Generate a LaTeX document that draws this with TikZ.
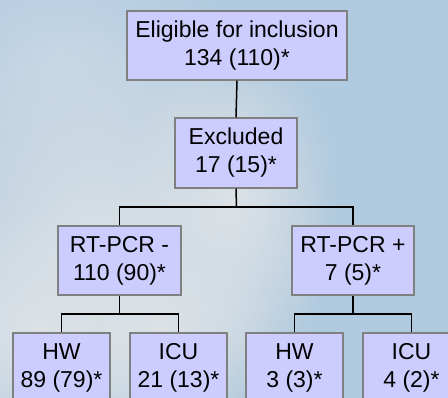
\documentclass[tikz,border=0pt]{standalone}
\usepackage{fontspec}
\setmainfont{Liberation Sans}
\usetikzlibrary{fadings}
\tikzfading[name=softblob, inner color=transparent!0, outer color=transparent!100]
\definecolor{skyblue}{HTML}{B0CADF}
\definecolor{skylight}{HTML}{C6D6E6}
\definecolor{cloud}{HTML}{DCE2E6}
\definecolor{boxfill}{HTML}{CCCCFF}
\definecolor{boxline}{HTML}{808080}
\tikzset{
  box/.style={draw=boxline, line width=1.3pt, fill=boxfill, inner sep=0pt,
    align=center, font=\fontsize{23}{28}\selectfont, text=black},
  link/.style={draw=black, line width=1.5pt}
}
\begin{document}
\begin{tikzpicture}[x=1pt,y=-1pt]
\useasboundingbox (0,0) rectangle (448,398);
\clip (0,0) rectangle (448,398);
% background sky
\fill[skyblue] (0,0) rectangle (448,398);
\fill[skylight, path fading=softblob] (60,60) ellipse [x radius=180, y radius=140];
\fill[cloud, path fading=softblob] (100,250) ellipse [x radius=230, y radius=230];
\fill[cloud, path fading=softblob] (230,200) ellipse [x radius=110, y radius=170];
\fill[cloud, path fading=softblob] (40,330) ellipse [x radius=150, y radius=120];
\fill[cloud, path fading=softblob] (160,330) ellipse [x radius=120, y radius=100];
% boxes
\node[box, minimum width=220pt, minimum height=69pt] (top) at (237,45.5) {Eligible for inclusion\\134 (110)*};
\node[box, minimum width=122pt, minimum height=70pt] (excl) at (236,153) {Excluded\\17 (15)*};
\node[box, minimum width=123pt, minimum height=69pt] (rtm) at (119.5,260.5) {RT-PCR -\\110 (90)*};
\node[box, minimum width=122pt, minimum height=69pt] (rtp) at (353,260.5) {RT-PCR +\\7 (5)*};
\node[box, minimum width=97pt, minimum height=69pt] (hw1) at (61.5,367.5) {HW\\89 (79)*};
\node[box, minimum width=97pt, minimum height=69pt] (icu1) at (178.5,367.5) {ICU\\21 (13)*};
\node[box, minimum width=97pt, minimum height=69pt] (hw2) at (294.5,367.5) {HW\\3 (3)*};
\node[box, minimum width=97pt, minimum height=69pt] (icu2) at (411.5,367.5) {ICU\\4 (2)*};
% junctions
\coordinate (j1) at (236.5,207);
\coordinate (j2) at (119.5,314);
\coordinate (j3) at (353,314);
% connectors
\draw[link] (top.south) -- (excl.north);
\draw[link] (excl.south) -- (j1);
\draw[link] (rtm.north) |- (j1) -| (rtp.north);
\draw[link] (rtm.south) -- (j2);
\draw[link] (hw1.north) |- (j2) -| (icu1.north);
\draw[link] (rtp.south) -- (j3);
\draw[link] (hw2.north) |- (j3) -| (icu2.north);
\end{tikzpicture}
\end{document}
